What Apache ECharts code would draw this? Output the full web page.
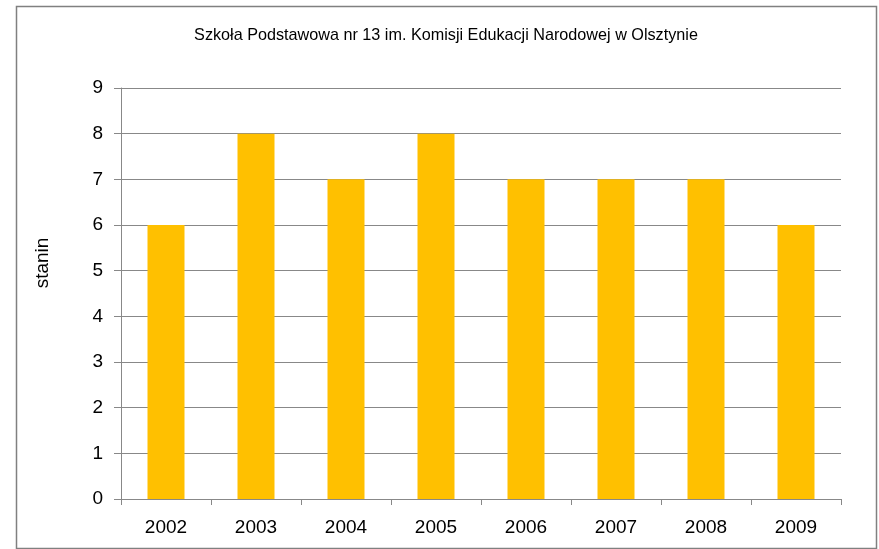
<!DOCTYPE html>
<html><head><meta charset="utf-8">
<script src="https://cdn.jsdelivr.net/npm/echarts@6/dist/echarts.min.js"></script>
<style>html,body{margin:0;padding:0;background:#fff}#c{width:879px;height:549px}</style>
</head><body><div id="c"></div>
<script>
const titleText = 'Szkoła Podstawowa nr 13 im. Komisji Edukacji Narodowej w Olsztynie';
const yAxisName = 'stanin';
const categories = ['2002','2003','2004','2005','2006','2007','2008','2009'];
const values = [6,8,7,8,7,7,7,6];

const chart = echarts.init(document.getElementById('c'), null, {renderer:'canvas'});
chart.setOption({
  backgroundColor:'#fff',
  animation:false,
  graphic:[
    {type:'rect',shape:{x:16.5,y:6.5,width:860,height:542},style:{fill:'none',stroke:'#808080',lineWidth:1.5},silent:true},
    {type:'text',x:43,y:263,rotation:Math.PI/2,style:{text:yAxisName,font:'19px "Liberation Sans", Arial',fill:'#000',align:'center',verticalAlign:'middle'},silent:true}
  ],
  title:{text:titleText,left:441,top:23,textAlign:'center',textStyle:{fontFamily:'Liberation Sans, Arial',fontSize:16.2,fontWeight:'normal',color:'#000'}},
  grid:{left:121,right:38,top:88,bottom:50},
  xAxis:{type:'category',data:categories,
    axisLine:{lineStyle:{color:'#888',width:1}},
    axisTick:{show:true,length:6,lineStyle:{color:'#888'}},
    axisLabel:{fontFamily:'Liberation Sans, Arial',fontSize:19,color:'#000',margin:19}},
  yAxis:{type:'value',min:0,max:9,interval:1,
    axisLine:{show:true,lineStyle:{color:'#888'}},
    axisTick:{show:true,length:7,lineStyle:{color:'#888'}},
    axisLabel:{fontFamily:'Liberation Sans, Arial',fontSize:19,color:'#000',margin:18},
    splitLine:{lineStyle:{color:'#888',width:1}}},
  series:[{type:'bar',data:values,barWidth:37,itemStyle:{color:'#FFC000'}}]
});
</script></body></html>
